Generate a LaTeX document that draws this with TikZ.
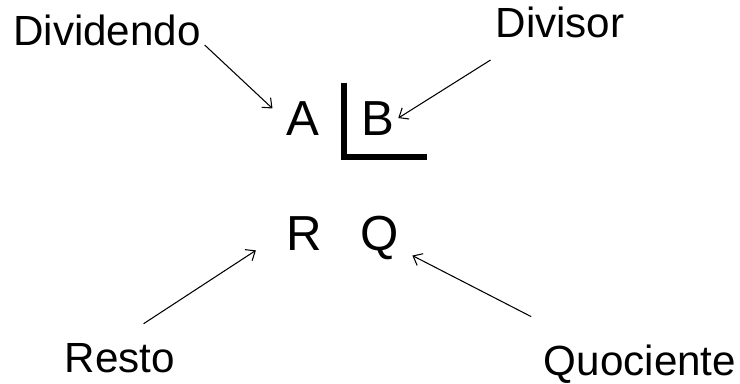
\documentclass[tikz,border=0pt]{standalone}
\usepackage{fontspec}
\setmainfont{Liberation Sans}
\usetikzlibrary{arrows.meta}
\tikzset{
  lettera/.style={font=\fontsize{28}{32}\selectfont, inner sep=2pt, anchor=base},
  etichetta/.style={font=\fontsize{24}{28}\selectfont, inner sep=2pt, anchor=base},
  freccia/.style={line width=0.6pt, -{Straight Barb[length=4.5pt,width=7.5pt]}},
}
\begin{document}
\begin{tikzpicture}[x=0.2mm,y=-0.2mm]
  \useasboundingbox (0,0) rectangle (740,383);

  % lettere
  \node[lettera] (a) at (303,135) {A};
  \node[lettera] (b) at (378,135) {B};
  \node[lettera] (r) at (304,250) {R};
  \node[lettera] (q) at (380,250) {Q};

  % segno della divisione
  \draw[line width=3.4pt] (344,83) -- (344,157) -- (427,157);

  % nomi
  \node[etichetta] (dividendo) at (107,45)  {Dividendo};
  \node[etichetta] (divisor)   at (560,37)  {Divisor};
  \node[etichetta] (resto)     at (120,372) {Resto};
  \node[etichetta, inner sep=1pt] (quociente) at (640,375) {Quociente};

  % frecce
  \draw[freccia, shorten >=8pt] (dividendo.base east) -- (a.west);
  \draw[freccia, shorten <=20pt] (divisor.206) -- (b.east);
  \draw[freccia, shorten <=16pt, shorten >=18pt] (resto.north) -- (r.west);
  \draw[freccia, shorten <=32pt, shorten >=6pt] (quociente.160) -- (q.-30);

\end{tikzpicture}
\end{document}
